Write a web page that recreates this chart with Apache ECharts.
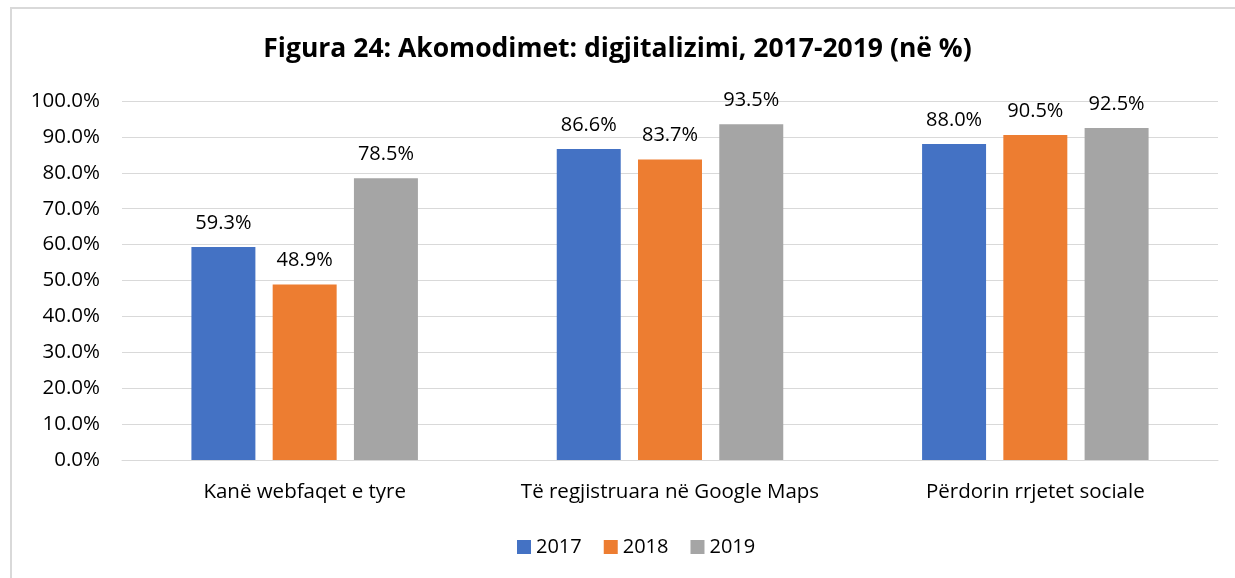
<!DOCTYPE html>
<html><head><meta charset="utf-8">
<script src="https://cdn.jsdelivr.net/npm/echarts@6/dist/echarts.min.js"></script>
<style>html,body{margin:0;padding:0;background:#fff;overflow:hidden}#c{width:1235px;height:578px}
#b{position:absolute;left:10px;top:7px;width:1400px;height:800px;border:2px solid #d9d9d9;pointer-events:none}</style>
</head><body><div id="c"></div><div id="b"></div>
<script>
const categories = ['Kanë webfaqet e tyre', 'Të regjistruara në Google Maps', 'Përdorin rrjetet sociale'];
const seriesNames = ['2017', '2018', '2019'];
const values2017 = [59.3, 86.6, 88.0];
const values2018 = [48.9, 83.7, 90.5];
const values2019 = [78.5, 93.5, 92.5];
const colors = ['#4472C4', '#ED7D31', '#A5A5A5'];
const font = '"Open Sans", sans-serif';
const chart = echarts.init(document.getElementById('c'));
const data = [values2017, values2018, values2019];
chart.setOption({
  animation: false,
  title: { text: 'Figura 24: Akomodimet: digjitalizimi, 2017-2019 (në %)', left: 'center', top: 31,
    textStyle: { fontFamily: font, fontSize: 26.5, fontWeight: 'bold', color: '#000' } },
  legend: { bottom: 16, left: 512, itemWidth: 14, itemHeight: 14, itemGap: 22,
    icon: 'rect', textStyle: { fontFamily: font, fontSize: 20, color: '#000' } },
  grid: { left: 122, right: 17, top: 101, bottom: 118, containLabel: false },
  xAxis: { type: 'category', data: categories,
    axisLine: { lineStyle: { color: '#d9d9d9' } }, axisTick: { show: false },
    axisLabel: { interval: 0, hideOverlap: false, fontFamily: font, fontSize: 20.5, color: '#000', margin: 22 } },
  yAxis: { type: 'value', min: 0, max: 100, interval: 10,
    axisLabel: { fontFamily: font, fontSize: 20.5, color: '#000', formatter: v => v.toFixed(1) + '%', margin: 22 },
    splitLine: { lineStyle: { color: '#d9d9d9' } }, axisLine: { show: false }, axisTick: { show: false } },
  series: seriesNames.map((n, i) => ({
    name: n, type: 'bar', data: data[i], barGap: '27%', barCategoryGap: '38%',
    itemStyle: { color: colors[i] },
    label: { show: true, position: 'top', distance: 14, fontFamily: font, fontSize: 20, color: '#000',
      formatter: p => p.value.toFixed(1) + '%' }
  }))
});
</script></body></html>
